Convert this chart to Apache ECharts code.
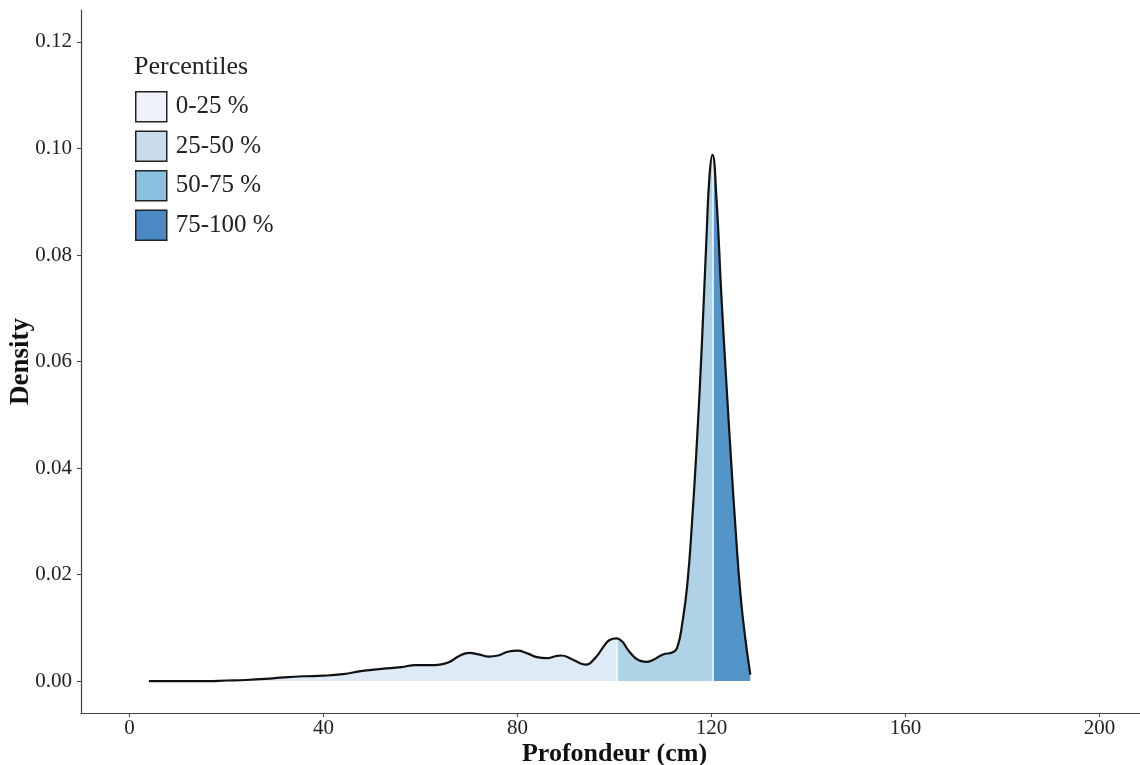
<!DOCTYPE html>
<html>
<head>
<meta charset="utf-8">
<script src="https://cdn.jsdelivr.net/npm/echarts@6/dist/echarts.min.js"></script>
<style>
html,body{margin:0;padding:0;background:#fff;}
#chart{width:1140px;height:765px;}
</style>
</head>
<body>
<div id="chart"></div>
<script>
// ---- data ----
const depth = [4, 8, 12, 16, 20, 24, 28, 32, 36, 40, 44, 48, 52, 56, 59, 62, 64, 66, 68, 70, 72, 74, 76, 78, 80, 82, 84, 86, 88, 89, 91, 93, 94, 96, 98, 99, 100.4, 101.5, 103, 105, 106.5, 108, 110, 112, 113, 114, 115, 116, 117, 118, 119, 119.6, 120.2, 121, 122, 123, 124, 125, 126, 127, 128];
const density = [0.0000, 0.0000, 0.0000, 0.0000, 0.0001, 0.0002, 0.0004, 0.0007, 0.0009, 0.0010, 0.0013, 0.0019, 0.0023, 0.0026, 0.0030, 0.0030, 0.0031, 0.0036, 0.0047, 0.0053, 0.0050, 0.0046, 0.0048, 0.0055, 0.0057, 0.0052, 0.0045, 0.0043, 0.0047, 0.0048, 0.0042, 0.0033, 0.0031, 0.0043, 0.0068, 0.0077, 0.0080, 0.0075, 0.0056, 0.0039, 0.0036, 0.0040, 0.0050, 0.0054, 0.0065, 0.0110, 0.0180, 0.0300, 0.0450, 0.0630, 0.0840, 0.0950, 0.0988, 0.0910, 0.0730, 0.0570, 0.0420, 0.0280, 0.0160, 0.0078, 0.0012];
const quantileBreaks = [100.4, 120.2, 120.2]; // Q1, median, Q3 (Q3 region not visible)
const groupNames = ['0-25 %', '25-50 %', '50-75 %', '75-100 %'];
const plotColors = ['#deebf7', '#afd2e7', '#7fb8dc', '#5394c9'];
const legendColors = ['#eff2fd', '#c8dcea', '#8bc0e0', '#4a89c6'];
const xTicks = [0, 40, 80, 120, 160, 200];
const yTicks = [0, 0.02, 0.04, 0.06, 0.08, 0.10, 0.12];

// ---- build ----
const pts = depth.map((x, i) => [x, density[i]]);
const edges = [-Infinity].concat(quantileBreaks, [Infinity]);
const font = 'Liberation Serif, Times New Roman, serif';
const SMOOTH = 0.5;

const series = groupNames.map((name, g) => {
  const lo = edges[g], hi = edges[g + 1];
  const data = (hi > lo) ? pts.filter(p => p[0] >= lo && p[0] <= hi) : [];
  return {
    name: name,
    type: 'line',
    data: data,
    smooth: SMOOTH,
    symbol: 'none',
    lineStyle: { width: 0, opacity: 0 },
    itemStyle: { color: legendColors[g] },
    areaStyle: { color: plotColors[g], opacity: 1 },
    z: 2,
    silent: true
  };
});

// white separators at the quantile breaks
const sepData = [quantileBreaks[0], quantileBreaks[1]].map(b => {
  const i = depth.indexOf(b);
  return [{ coord: [b, 0] }, { coord: [b, density[i]] }];
});
series[1].markLine = {
  silent: true,
  symbol: 'none',
  label: { show: false },
  lineStyle: { color: '#ffffff', width: 1.5, type: 'solid' },
  data: sepData,
  z: 3
};

series.push({
  name: 'density',
  type: 'line',
  data: pts,
  smooth: SMOOTH,
  symbol: 'none',
  lineStyle: { color: '#111', width: 2.2 },
  z: 5,
  silent: true
});

const chart = echarts.init(document.getElementById('chart'), null, { renderer: 'canvas' });
chart.setOption({
  backgroundColor: '#fff',
  animation: false,
  title: {
    text: 'Percentiles',
    left: 134, top: 54, padding: 0,
    textStyle: { fontFamily: font, fontSize: 26, fontWeight: 'normal', color: '#222' }
  },
  legend: {
    data: groupNames.map((n, i) => ({ name: n, itemStyle: { color: legendColors[i], borderColor: '#222', borderWidth: 1.5 } })),
    orient: 'vertical',
    left: 135, top: 91, padding: 0,
    icon: 'rect',
    itemWidth: 31, itemHeight: 30, itemGap: 8,
    selectedMode: false,
    textStyle: { fontFamily: font, fontSize: 25, color: '#222', padding: [0, 0, 0, 4] }
  },
  grid: { left: 81, right: -8, top: 10, bottom: 52, containLabel: false, outerBoundsMode: 'none' },
  xAxis: {
    type: 'value', min: -10, max: 210,
    name: 'Profondeur (cm)', nameLocation: 'middle', nameGap: 28, nameMoveOverlap: false,
    nameTextStyle: { fontFamily: font, fontSize: 26, fontWeight: 'bold', color: '#111', verticalAlign: 'top' },
    axisLine: { show: true, onZero: false, lineStyle: { color: '#444', width: 1.2 } },
    axisTick: { show: true, length: 4, customValues: xTicks, lineStyle: { color: '#444' } },
    axisLabel: { customValues: xTicks, margin: 5, fontFamily: font, fontSize: 21, color: '#222' },
    splitLine: { show: false }
  },
  yAxis: {
    type: 'value', min: -0.006, max: 0.126,
    name: 'Density', nameLocation: 'middle', nameGap: 46, nameMoveOverlap: false,
    nameTextStyle: { fontFamily: font, fontSize: 27, fontWeight: 'bold', color: '#111' },
    axisLine: { show: true, onZero: false, lineStyle: { color: '#444', width: 1.2 } },
    axisTick: { show: true, length: 4, customValues: yTicks, lineStyle: { color: '#444' } },
    axisLabel: { customValues: yTicks, margin: 9, fontFamily: font, fontSize: 21, color: '#222', formatter: v => v.toFixed(2) },
    splitLine: { show: false }
  },
  series: series
});
</script>
</body>
</html>
